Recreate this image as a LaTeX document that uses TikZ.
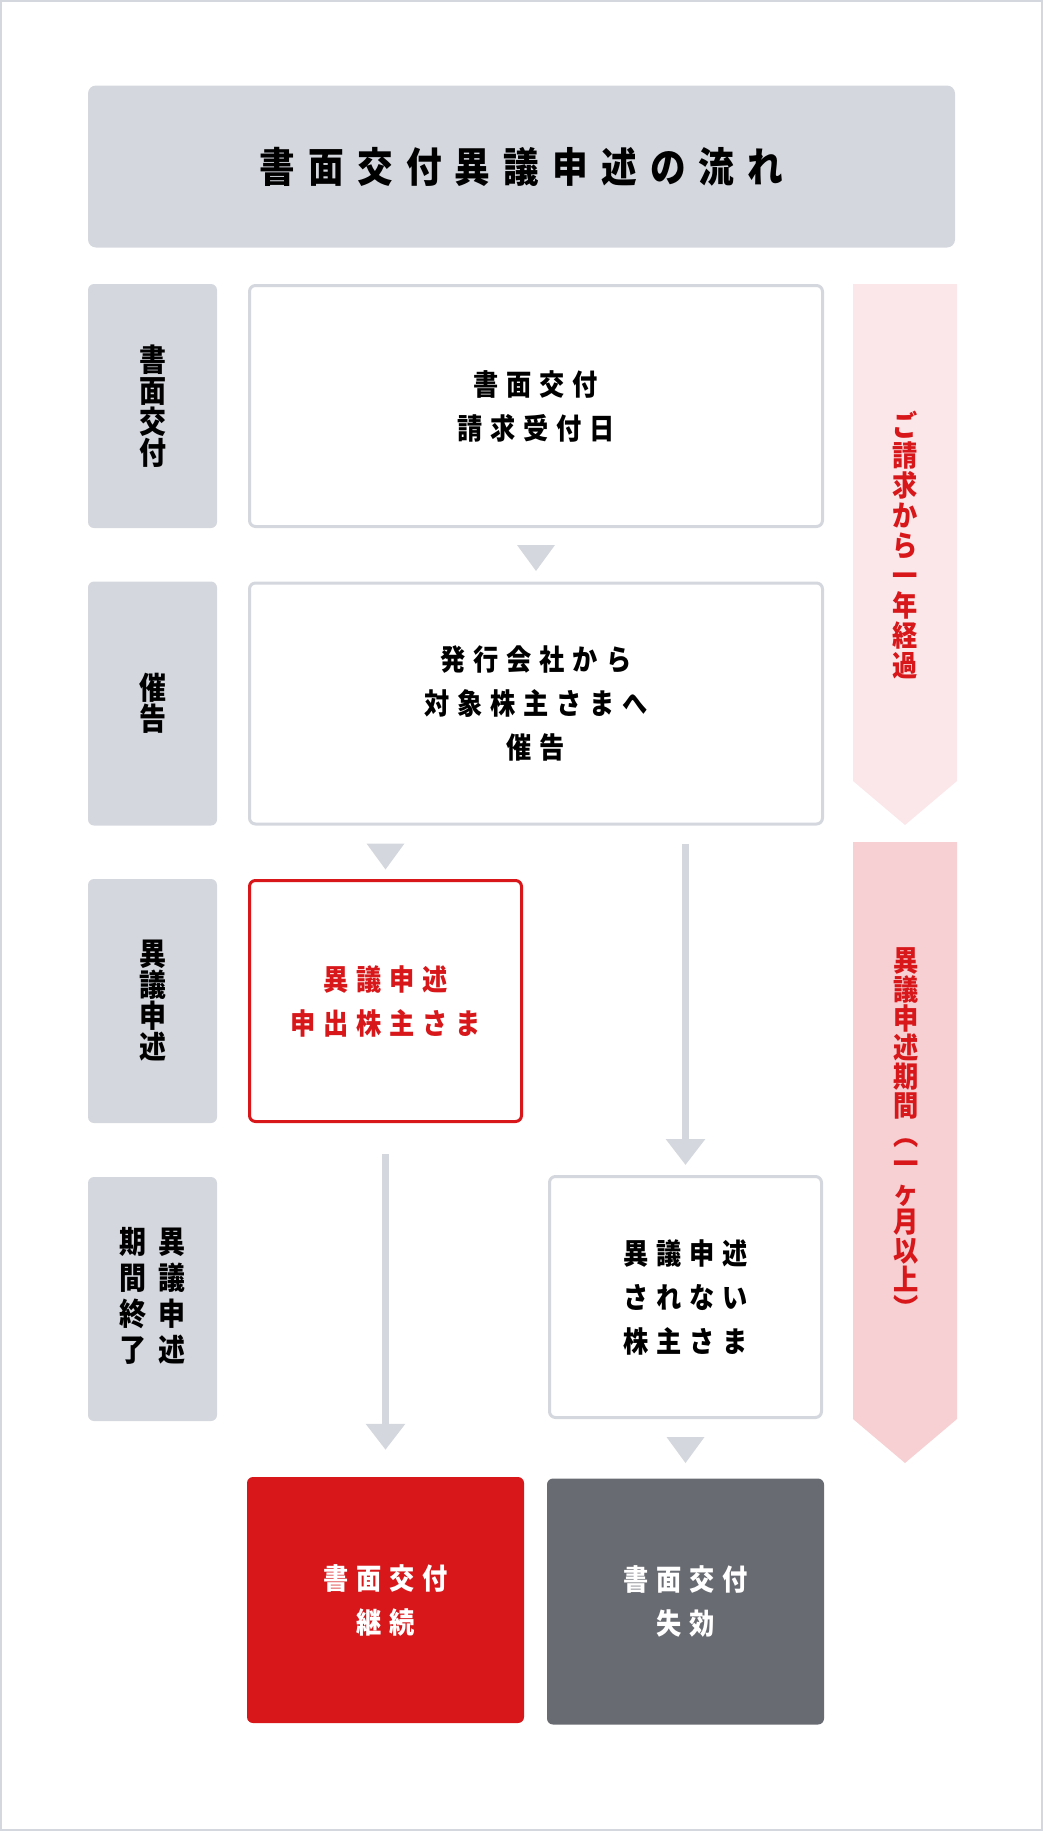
\documentclass[tikz,border=0pt]{standalone}
\usepackage{fontspec}
\setmainfont{Noto Sans CJK JP}[FakeStretch=0.87]
\usepackage{tikz}
\usetikzlibrary{positioning}
\usetikzlibrary{%
  calc,%
  arrows.meta%
}
\definecolor{lblgray}{HTML}{D4D7DE}
\definecolor{flowred}{HTML}{D7171A}
\definecolor{flowdark}{HTML}{696B72}
\definecolor{pinkA}{HTML}{FBE7E9}
\definecolor{pinkB}{HTML}{F6D0D3}
\newcommand\titlefont{\fontsize{41}{45}\selectfont\bfseries\addfontfeature{LetterSpace=32}}
\newcommand\boxfont{\fontsize{29}{44}\selectfont\bfseries\addfontfeature{LetterSpace=27}}
\newcommand\vlblfont{\fontsize{31}{31}\selectfont\bfseries}

\begin{document}
\begin{tikzpicture}[x=1pt, y=-1pt,
  titlebox/.style={fill=lblgray, rounded corners=8pt, minimum width=867pt, minimum height=162pt, inner sep=0pt, font=\titlefont},
  lbl/.style={fill=lblgray, rounded corners=6pt, minimum width=129pt, minimum height=244pt, inner sep=0pt, align=center, font=\vlblfont},
  box/.style={draw=lblgray, line width=3pt, fill=white, rounded corners=6pt, minimum height=241pt, inner sep=0pt, align=center, font=\boxfont},
  endbox/.style={rounded corners=6pt, minimum width=277pt, minimum height=246pt, inner sep=0pt, align=center, text=white, font=\boxfont},
  vtext/.style={align=center, inner sep=0pt, text=flowred, font=\fontsize{29}{#1}\selectfont\bfseries},
  flow/.style={lblgray, line width=7pt, -{Triangle[width=38pt,length=26pt]}},
  tri/.style={fill=lblgray}]
\useasboundingbox (0,0) rectangle (1043,1831);
\draw[lblgray, line width=2pt] (1,1) rectangle (1042,1830);

\node[titlebox] (title) at (521.5,166.5) {書面交付異議申述の流れ};

% steps on the left
\node[lbl] (lbl1) at (152.5,406) {書\\面\\交\\付};
\node[lbl] (lbl2) at (152.5,703.5) {催\\告};
\node[lbl] (lbl3) at (152.5,1001) {異\\議\\申\\述};
\node[lbl] (lbl4) at (152.5,1299) {\begin{tabular}{@{}c@{\hspace{12pt}}c@{}}期&異\\間&議\\終&申\\了&述\end{tabular}};

% flow
\node[box, minimum width=573pt] (request) at (536,406) {書面交付\\請求受付日};
\node[box, minimum width=573pt] (notice) at (536,703.5) {発行会社から\\対象株主さまへ\\催告};
\node[box, draw=flowred, text=flowred, minimum width=272pt] (objector) at (385.5,1001) {異議申述\\申出株主さま};
\node[box, minimum width=272pt] (silent) at (685.5,1297) {異議申述\\されない\\株主さま};
\node[endbox, fill=flowred] (keep) at (385.5,1600) {書面交付\\継続};
\node[endbox, fill=flowdark] (lapse) at (685.5,1601.5) {書面交付\\失効};

\fill[tri] ($(request.south)+(-19,17)$) -- ++(38,0) -- ++(-19,26) -- cycle;
\fill[tri] ($(notice.south -| objector.north)+(-19,18)$) -- ++(38,0) -- ++(-19,26) -- cycle;
\fill[tri] ($(silent.south)+(-19,18)$) -- ++(38,0) -- ++(-19,26) -- cycle;
\draw[flow, shorten <=18pt, shorten >=10pt] (notice.south -| silent.north) -- (silent.north);
\draw[flow, shorten <=31pt, shorten >=27pt] (objector.south) -- (keep.north);

% periods on the right
\fill[pinkA] (853,284) -- (957,284) -- (957,781) -- (905,825) -- (853,781) -- cycle;
\fill[pinkB] (853,842) -- (957,842) -- (957,1419) -- (905,1463) -- (853,1419) -- cycle;
\node[vtext=30] (year) at (905,545) {ご\\請\\求\\か\\ら\\一\\年\\経\\過};
\node[vtext=29] (period) at (906,1134) {異\\議\\申\\述\\期\\間\\︵\\一\\ヶ\\月\\以\\上\\︶};
\end{tikzpicture}
\end{document}
